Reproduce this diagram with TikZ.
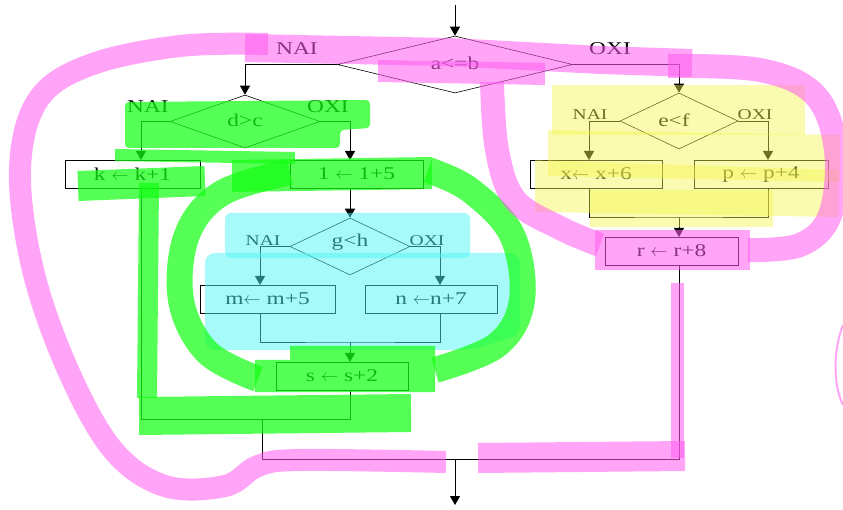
\documentclass[tikz,border=0pt]{standalone}
\usepackage{fontspec}
\setmainfont{Liberation Serif}[FakeStretch=1.3]
\usetikzlibrary{shapes.geometric,arrows.meta,calc}
\definecolor{hpink}{RGB}{255,90,240}
\definecolor{hgreen}{RGB}{20,255,20}
\definecolor{hcyan}{RGB}{80,245,245}
\definecolor{hyellow}{RGB}{245,245,80}
\newcommand{\asg}{$\leftarrow$}
\begin{document}
\begin{tikzpicture}[x=1pt,y=-1pt,
  line width=0.9pt,
  box/.style={draw, rectangle, minimum height=28pt, inner sep=0pt, font=\fontsize{18}{20}\selectfont},
  dia/.style={draw, diamond, inner sep=0pt, line width=0.6pt},
  dtext/.style={font=\fontsize{18}{20}\selectfont, inner sep=0pt},
  lab/.style={font=\fontsize{18}{20}\selectfont, inner sep=0pt},
  slab/.style={font=\fontsize{15}{17}\selectfont, inner sep=0pt},
  arr/.style={-{Triangle[width=10pt,length=9pt]}},
  hp/.style={draw=hpink, opacity=0.55, line width=24pt, line join=round},
  hpf/.style={fill=hpink, opacity=0.55},
  hg/.style={draw=hgreen, opacity=0.72, line width=26pt, line join=round},
  hgf/.style={fill=hgreen, opacity=0.72},
  hcf/.style={fill=hcyan, opacity=0.5},
  hyf/.style={fill=hyellow, opacity=0.45}
]
\useasboundingbox (0,0) rectangle (843,510);

% ---------------- flowchart ----------------
\coordinate (start) at (455,5);
\node[dia, minimum width=235pt, minimum height=57pt] (a) at (455,64.5) {};
\node[dtext] (at) at (455,63) {a<=b};
\node[lab] (anai) at (297,49) {NAI};
\node[lab] (aoxi) at (610,49) {OXI};

\node[dia, minimum width=150pt, minimum height=53pt] (d) at (245,121.5) {};
\node[dtext] (dt) at (245,120) {d>c};
\node[lab] (dnai) at (148,107) {NAI};
\node[lab] (doxi) at (328,107) {OXI};

\node[box, minimum width=135pt] (k) at (132.5,174) {k \asg\ k+1};
\node[box, minimum width=133pt] (l) at (356.5,174) {1 \asg\ 1+5};

\node[dia, minimum width=120pt, minimum height=57pt] (g) at (350,246.5) {};
\node[dtext] (gt) at (350,242) {g<h};
\node[slab] (gnai) at (263,241) {NAI};
\node[slab] (goxi) at (427,241) {OXI};

\node[box, minimum width=135pt] (m) at (267.5,299) {m\asg\ m+5};
\node[box, minimum width=132pt] (n) at (431,299) {n \asg n+7};
\node[box, minimum width=132pt] (s) at (342,376) {s \asg\ s+2};

\node[dia, minimum width=118pt, minimum height=56pt] (e) at (679,121) {};
\node[dtext] (et) at (674,120) {e<f};
\node[slab] (enai) at (590,115) {NAI};
\node[slab] (eoxi) at (755,115) {OXI};

\node[box, minimum width=132pt] (x) at (596,174) {x\asg\ x+6};
\node[box, minimum width=134pt] (p) at (761,174) {p \asg\ p+4};
\node[box, minimum width=133pt] (r) at (671.5,251) {r \asg\ r+8};

% entry / exit points
\coordinate (kin) at (141,160);  \coordinate (kout) at (141,188);
\coordinate (lin) at (350,160);  \coordinate (lout) at (350,188);
\coordinate (min) at (260,285);  \coordinate (mout) at (260,313);
\coordinate (nin) at (440,285);  \coordinate (nout) at (440,313);
\coordinate (sin) at (350,362);  \coordinate (sout) at (350,390);
\coordinate (xin) at (589,160);  \coordinate (xout) at (589,188);
\coordinate (pin) at (768,160);  \coordinate (pout) at (768,188);
\coordinate (rin) at (679,237);  \coordinate (rout) at (679,265);
\coordinate (mj) at (350,342);
\coordinate (xj) at (679,217);
\coordinate (kj) at (141,419);
\coordinate (lj) at (262,419);
\coordinate (bj) at (455,459);
\coordinate (stop) at (455,505);

\draw[arr] (start) -- (a.north);
\draw[arr] (a.west) -| (d.north);
\draw[arr] (a.east) -| (e.north);
\draw[arr] (d.west) -| (kin);
\draw[arr] (d.east) -| (lin);
\draw[arr] (lout) -- (g.north);
\draw[arr] (g.west) -| (min);
\draw[arr] (g.east) -| (nin);
\draw (mout) |- (mj) -| (nout);
\draw[arr] (mj) -- (sin);
\draw (kout) -- (kj) -| (sout);
\draw (lj) -- (262,459) -| (rout);
\draw[arr] (bj) -- (stop);
\draw[arr] (e.west) -| (xin);
\draw[arr] (e.east) -| (pin);
\draw (xout) |- (xj) -| (pout);
\draw[arr] (xj) -- (rin);

% ---------------- highlighter marks ----------------
% yellow
\fill[hyf] (552,85) rectangle (805,135);
\fill[hyf] (548,130) -- (840,135) -- (840,182) -- (548,176) -- cycle;
\fill[hyf] (535,160) -- (838,170) -- (838,217) -- (535,212) -- cycle;
\fill[hyf] (590,190) rectangle (773,227);
% cyan
\fill[hcf, rounded corners=6pt] (225,213) rectangle (470,258);
\fill[hcf, rounded corners=10pt] (205,253) -- (520,253) -- (520,335) -- (470,350) -- (205,350) -- cycle;
% green
\fill[hgf, rounded corners=4pt] (125,102) -- (370,100) -- (370,128) -- (340,130) -- (340,148) -- (125,148) -- cycle;
\draw[hg, line width=30pt] (78,186) -- (205,181);
\draw[hg, line width=12pt] (115,155) -- (295,158);
\draw[hg, line width=32pt] (232,176) -- (432,173);
\draw[hg] plot[smooth, tension=0.6] coordinates {(258,379) (207,352) (181,300) (187,235) (222,193) (290,172)};
\draw[hg] plot[smooth, tension=0.6] coordinates {(428,170) (470,190) (512,235) (522,300) (497,345) (435,370)};
\fill[hgf] (290,346) -- (435,346) -- (435,392) -- (255,392) -- (255,360) -- (290,360) -- cycle;
\draw[hg, line width=20pt] (149,183) -- (147,398);
\draw[hg, line width=38pt] (139,416) -- (411,413);
% pink
\draw[hp, line width=22pt] plot[smooth, tension=0.6] coordinates {(268,44) (180,46) (90,65) (38,100) (20,170) (33,270) (68,370) (113,450) (165,486) (225,486) (258,466) (300,460) (446,462)};
\draw[hp, line width=28pt] (245,48) -- (450,52) -- (600,60) -- (692,63);
\draw[hp, line width=22pt] (378,71) -- (545,74);
\draw[hp] plot[smooth, tension=0.6] coordinates {(668,66) (760,70) (815,95) (836,150) (830,215) (800,245) (748,250)};
\draw[hp] plot[smooth, tension=0.6] coordinates {(492,82) (497,150) (515,200) (560,228) (600,245)};
\fill[hpf] (595,230) rectangle (750,270);
\draw[hp, line width=30pt] (478,458) -- (685,456);
\draw[hp, line width=13pt] (677,283) -- (677,458);
\draw[draw=hpink, opacity=0.55, line width=2pt] (843,325) .. controls (833,350) and (833,385) .. (843,405);
\end{tikzpicture}
\end{document}
